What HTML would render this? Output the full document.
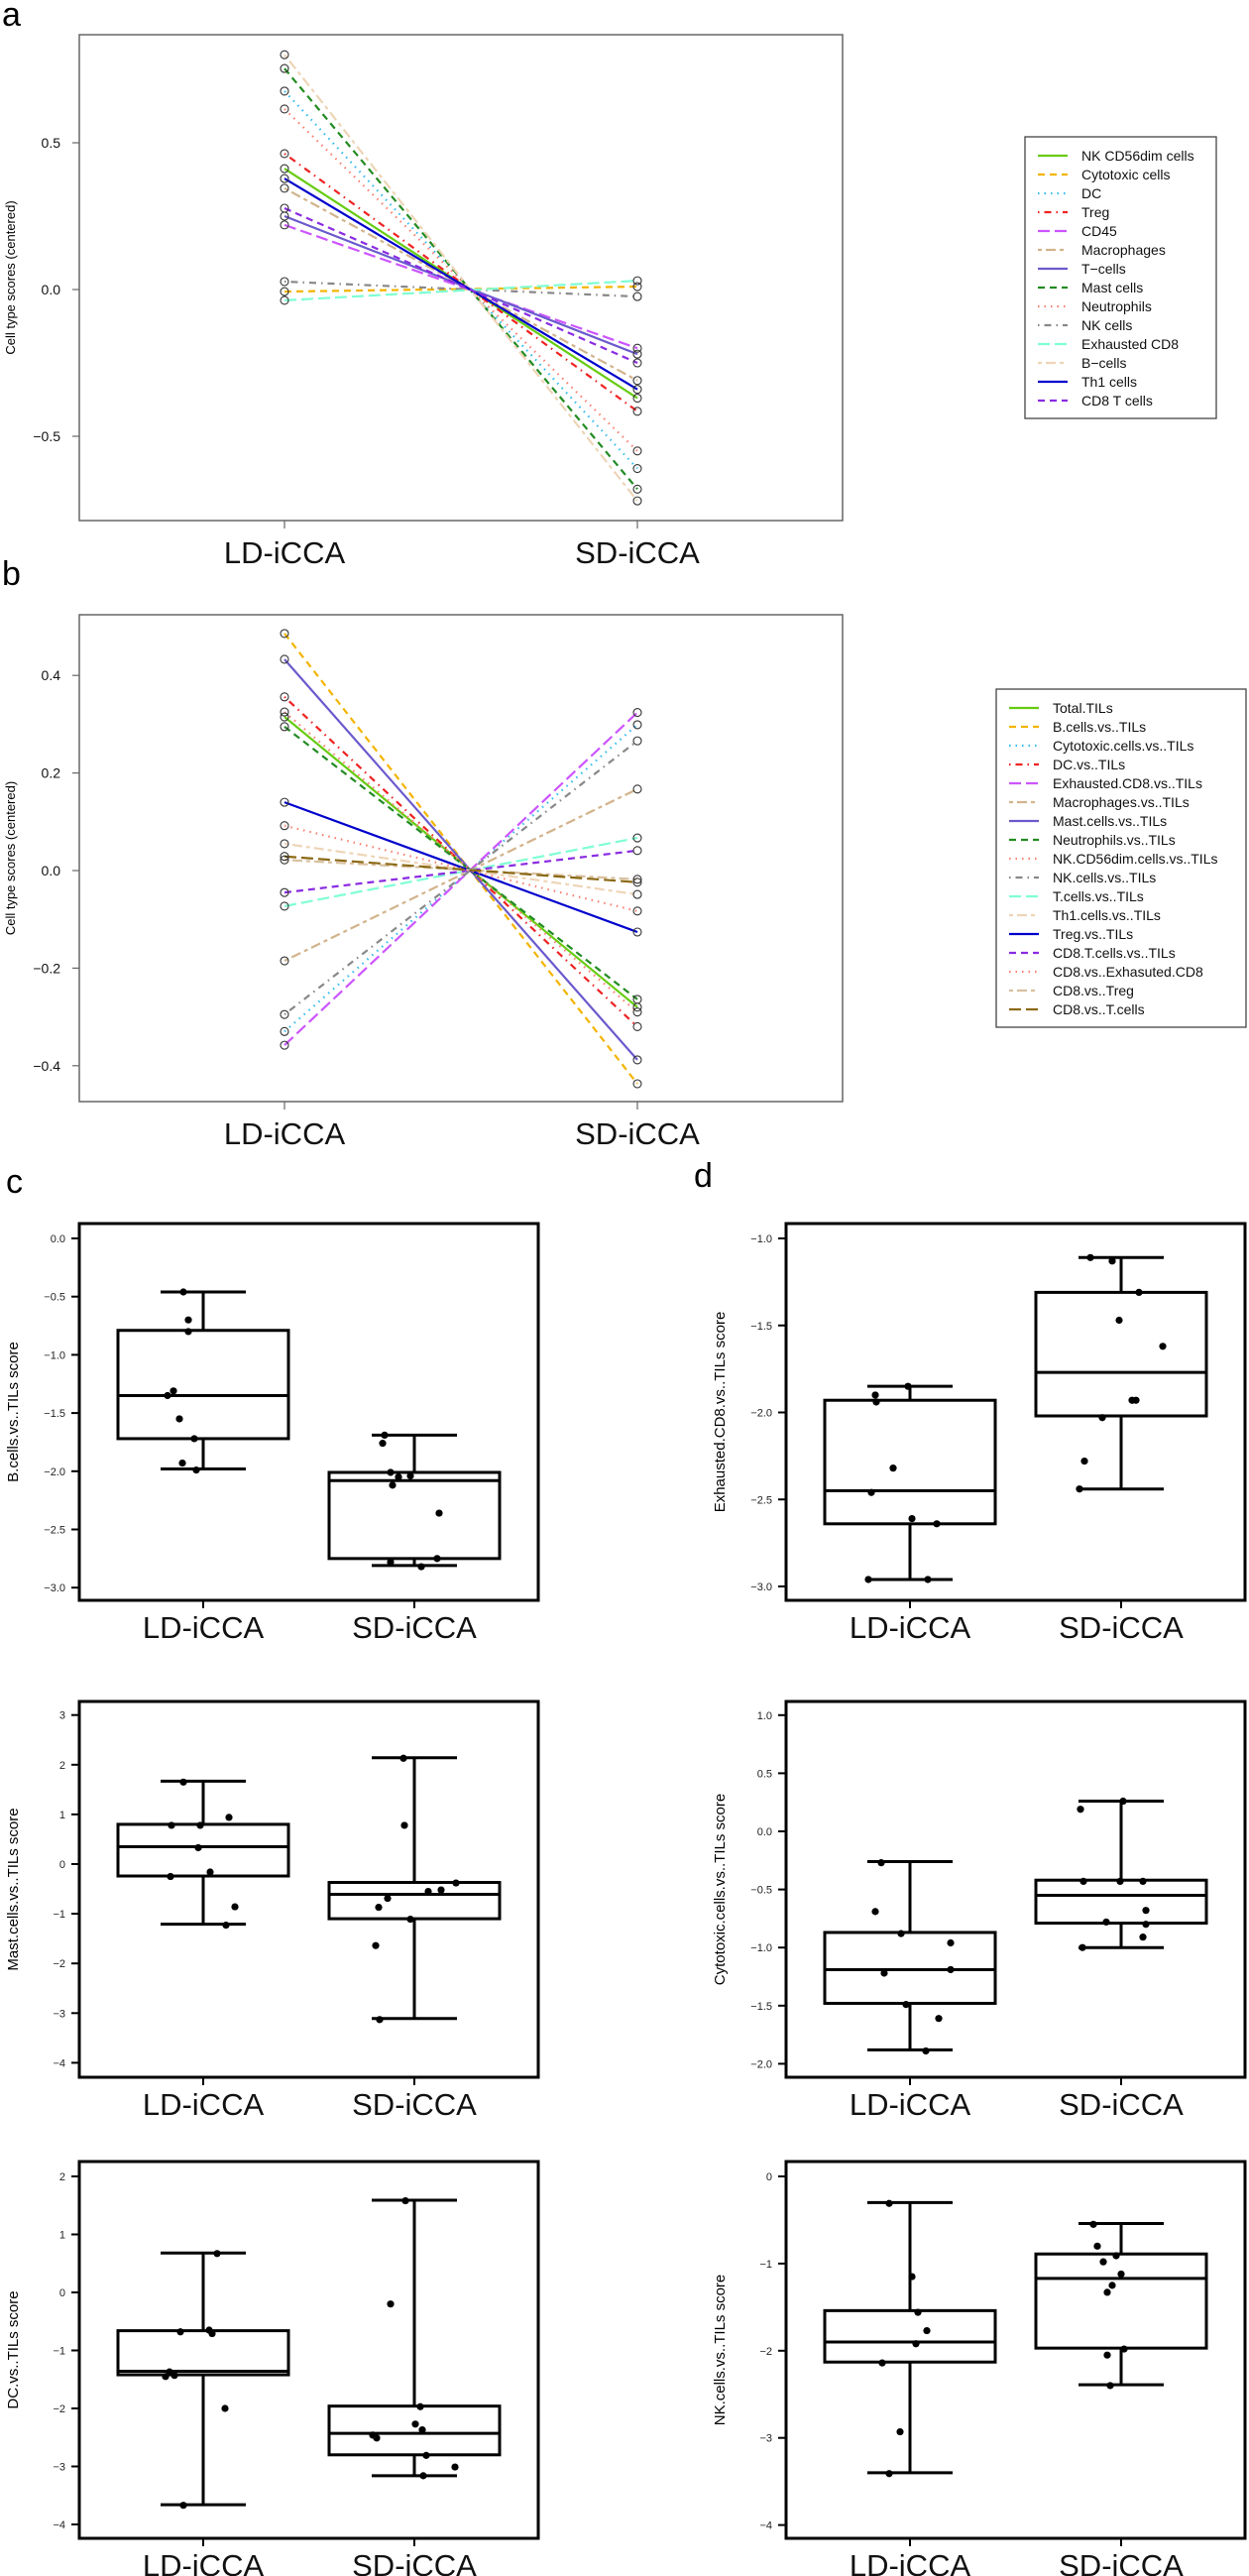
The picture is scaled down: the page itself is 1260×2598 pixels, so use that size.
<!DOCTYPE html>
<html><head><meta charset="utf-8"><style>
html,body{margin:0;padding:0;background:#fff}
svg{display:block;font-family:"Liberation Sans",Arial,sans-serif}
</style></head><body>
<svg id="fig" width="1260" height="2598" viewBox="0 0 1260 2598" xmlns="http://www.w3.org/2000/svg">
<text x="2" y="26" font-size="34">a</text>
<text x="2" y="590" font-size="34">b</text>
<text x="6" y="1203" font-size="34">c</text>
<text x="700" y="1197" font-size="34">d</text>
</svg>
<script>
// ---------- Panel a data ----------
const aNames = ["NK CD56dim cells","Cytotoxic cells","DC","Treg","CD45","Macrophages","T\u2212cells","Mast cells","Neutrophils","NK cells","Exhausted CD8","B\u2212cells","Th1 cells","CD8 T cells"];
const aLD = [0.412,-0.007,0.676,0.463,0.22,0.345,0.25,0.753,0.615,0.027,-0.037,0.80,0.378,0.277];
const aSD = [-0.37,0.01,-0.61,-0.415,-0.20,-0.31,-0.22,-0.68,-0.55,-0.024,0.03,-0.72,-0.34,-0.25];
const aColors = ["#66cc11","#f4b400","#33bbee","#ee2222","#cc55ff","#d2b48c","#6a5acd","#228b22","#fa8072","#888888","#7fffd4","#eed5b7","#0000cd","#8a2be2"];
const aLty = ["solid","dashed","dotted","dotdash","longdash","twodash","solid","dashed","dotted","dotdash","longdash","twodash","solid","dashed"];
const aTicks = [0.5,0.0,-0.5];
const aTickLabels = ["0.5","0.0","\u22120.5"];
// ---------- Panel b data ----------
const bNames = ["Total.TILs","B.cells.vs..TILs","Cytotoxic.cells.vs..TILs","DC.vs..TILs","Exhausted.CD8.vs..TILs","Macrophages.vs..TILs","Mast.cells.vs..TILs","Neutrophils.vs..TILs","NK.CD56dim.cells.vs..TILs","NK.cells.vs..TILs","T.cells.vs..TILs","Th1.cells.vs..TILs","Treg.vs..TILs","CD8.T.cells.vs..TILs","CD8.vs..Exhasuted.CD8","CD8.vs..Treg","CD8.vs..T.cells"];
const bLD = [0.315,0.486,-0.33,0.356,-0.358,-0.185,0.433,0.295,0.325,-0.295,-0.073,0.055,0.14,-0.045,0.092,0.022,0.029];
const bSD = [-0.28,-0.437,0.299,-0.32,0.324,0.167,-0.388,-0.264,-0.29,0.266,0.067,-0.049,-0.126,0.041,-0.083,-0.018,-0.024];
const bColors = ["#66cc11","#f4b400","#33bbee","#ee2222","#cc55ff","#d2b48c","#6a5acd","#228b22","#fa8072","#888888","#7fffd4","#eed5b7","#0000cd","#8a2be2","#fa8072","#d8c0a0","#8b6914"];
const bLty = ["solid","dashed","dotted","dotdash","longdash","twodash","solid","dashed","dotted","dotdash","longdash","twodash","solid","dashed","dotted","twodash","longdash"];
const bTicks = [0.4,0.2,0.0,-0.2,-0.4];
const bTickLabels = ["0.4","0.2","0.0","\u22120.2","\u22120.4"];
const groups = ["LD-iCCA","SD-iCCA"];
// ---------- Boxplot data: [whiskerLow, Q1, median, Q3, whiskerHigh] ----------
const c1Stats = [[-1.98,-1.72,-1.35,-0.79,-0.46],[-2.81,-2.75,-2.08,-2.01,-1.69]];
const c1LD = [-0.46,-0.70,-0.80,-1.31,-1.35,-1.55,-1.72,-1.93,-1.99];
const c1SD = [-1.69,-1.76,-2.01,-2.05,-2.04,-2.12,-2.36,-2.78,-2.75,-2.82];
const c1JitLD = [-20,-15,-15,-30,-36,-24,-9,-21,-7];
const c1JitSD = [-30,-32,-24,-16,-4,-22,25,-24,23,7];
const c2Stats = [[-1.21,-0.24,0.35,0.80,1.67],[-3.11,-1.10,-0.61,-0.37,2.14]];
const c2LD = [1.65,0.94,0.78,0.78,0.33,-0.16,-0.25,-0.86,-1.23];
const c2SD = [2.13,0.78,-0.38,-0.52,-0.55,-0.69,-0.87,-1.11,-1.64,-3.13];
const c2JitLD = [-20,26,-32,-3,-5,7,-33,32,23];
const c2JitSD = [-11,-10,42,27,14,-27,-36,-4,-39,-35];
const c3Stats = [[-3.66,-1.42,-1.36,-0.66,0.68],[-3.16,-2.80,-2.43,-1.96,1.59]];
const c3LD = [0.67,-0.68,-0.65,-0.71,-1.37,-1.45,-1.43,-2.00,-3.67];
const c3SD = [1.58,-0.20,-1.97,-2.27,-2.37,-2.46,-2.51,-2.81,-3.01,-3.16];
const c3JitLD = [14,-23,6,9,-34,-38,-29,22,-20];
const c3JitSD = [-9,-24,6,1,8,-42,-38,12,41,9];
const d1Stats = [[-2.96,-2.64,-2.45,-1.93,-1.85],[-2.44,-2.02,-1.77,-1.31,-1.11]];
const d1LD = [-1.90,-1.94,-1.85,-2.32,-2.46,-2.61,-2.64,-2.96,-2.96];
const d1SD = [-1.11,-1.13,-1.31,-1.47,-1.62,-1.93,-1.93,-2.03,-2.28,-2.44];
const d1JitLD = [-35,-34,-2,-17,-39,2,27,-42,18];
const d1JitSD = [-31,-9,18,-2,42,11,15,-19,-37,-42];
const d2Stats = [[-1.88,-1.48,-1.19,-0.87,-0.26],[-1.00,-0.79,-0.55,-0.42,0.26]];
const d2LD = [-0.27,-0.69,-0.88,-0.96,-1.22,-1.19,-1.49,-1.61,-1.89];
const d2SD = [0.26,0.19,-0.43,-0.43,-0.43,-0.68,-0.78,-0.80,-0.91,-1.00];
const d2JitLD = [-29,-35,-9,41,-26,41,-4,29,16];
const d2JitSD = [2,-41,-38,-1,22,25,-15,25,22,-39];
const d3Stats = [[-3.40,-2.13,-1.90,-1.54,-0.30],[-2.39,-1.97,-1.17,-0.89,-0.54]];
const d3LD = [-0.31,-1.15,-1.56,-1.77,-1.92,-2.14,-2.93,-3.41];
const d3SD = [-0.55,-0.80,-0.98,-0.91,-1.12,-1.25,-1.33,-1.98,-2.05,-2.40];
const d3JitLD = [-21,2,8,17,6,-28,-10,-21];
const d3JitSD = [-28,-24,-18,-5,0,-9,-14,3,-14,-11];
const c1Ticks=[0,-0.5,-1,-1.5,-2,-2.5,-3], c1TickLabels=["0.0","\u22120.5","\u22121.0","\u22121.5","\u22122.0","\u22122.5","\u22123.0"];
const c2Ticks=[3,2,1,0,-1,-2,-3,-4], c2TickLabels=["3","2","1","0","\u22121","\u22122","\u22123","\u22124"];
const c3Ticks=[2,1,0,-1,-2,-3,-4], c3TickLabels=["2","1","0","\u22121","\u22122","\u22123","\u22124"];
const d1Ticks=[-1,-1.5,-2,-2.5,-3], d1TickLabels=["\u22121.0","\u22121.5","\u22122.0","\u22122.5","\u22123.0"];
const d2Ticks=[1,0.5,0,-0.5,-1,-1.5,-2], d2TickLabels=["1.0","0.5","0.0","\u22120.5","\u22121.0","\u22121.5","\u22122.0"];
const d3Ticks=[0,-1,-2,-3,-4], d3TickLabels=["0","\u22121","\u22122","\u22123","\u22124"];

const NS="http://www.w3.org/2000/svg";
const svg=document.getElementById('fig');
function mk(tag,attrs,parent){const e=document.createElementNS(NS,tag);for(const k in attrs)e.setAttribute(k,attrs[k]);(parent||svg).appendChild(e);return e;}
const dashMap={solid:"",dashed:"7 5",dotted:"1.5 5",dotdash:"1.5 5 7 5",longdash:"12 5",twodash:"4 4 10 4"};

function linePanel(cfg){
  const g=mk('g',{});
  
  
  const y=v=>cfg.y0-v*cfg.scale;
  const xs=[cfg.xLD,cfg.xSD];
  const fr=mk('rect',{x:80,y:cfg.top,width:770,height:cfg.bottom-cfg.top,fill:'none',stroke:'#666','stroke-width':1.5},g);
  
  
  cfg.ticks.forEach((t,i)=>{
    const tk=mk('line',{x1:73,x2:80,y1:y(t),y2:y(t),stroke:'#666','stroke-width':1.2},g);
    
    
    const tl=mk('text',{x:61,y:y(t)+5,'font-size':14,'text-anchor':'end',fill:'#111'},g);
    tl.textContent=cfg.tickLabels[i];
    
    
  });
  const yt=mk('text',{x:0,y:0,'font-size':13,'text-anchor':'middle',transform:`translate(15,${(cfg.top+cfg.bottom)/2}) rotate(-90)`},g);
  yt.textContent="Cell type scores (centered)";
  
  
  groups.forEach((gname,i)=>{
    const tk=mk('line',{x1:xs[i],x2:xs[i],y1:cfg.bottom,y2:cfg.bottom+8,stroke:'#666','stroke-width':1.2},g);
    
    
    const tl=mk('text',{x:xs[i],y:cfg.bottom+43,'font-size':31,'text-anchor':'middle',fill:'#111'},g);
    tl.textContent=gname;
    
    
  });
  cfg.ld.forEach((v,i)=>{
    const l=mk('line',{x1:xs[0],y1:y(v),x2:xs[1],y2:y(cfg.sd[i]),stroke:cfg.colors[i],'stroke-width':2.2,'stroke-dasharray':dashMap[cfg.lty[i]]},g);
    
    
  });
  cfg.ld.forEach((v,i)=>{
    [v,cfg.sd[i]].forEach((vv,j)=>{
      const c=mk('circle',{cx:xs[j],cy:y(vv),r:4,fill:'none',stroke:'#333','stroke-width':1.1},g);
      
      
    });
  });
  const lg=mk('g',{},g);
  
  
  const L=cfg.legend;
  mk('rect',{x:L.x,y:L.y,width:L.w,height:L.h,fill:'#fff',stroke:'#444','stroke-width':1.3},lg);
  cfg.names.forEach((n,i)=>{
    const ry=L.y0+i*19;
    const e=mk('g',{},lg);
    
    
    mk('line',{x1:L.lx,x2:L.lx+30,y1:ry,y2:ry,stroke:cfg.colors[i],'stroke-width':2.2,'stroke-dasharray':dashMap[cfg.lty[i]]},e);
    const t=mk('text',{x:L.tx,y:ry+5,'font-size':14,fill:'#111'},e);
    t.textContent=n;
  });
}
linePanel({name:'panel-a-chart',top:35,bottom:525,y0:292,scale:296,xLD:287,xSD:643,ticks:aTicks,tickLabels:aTickLabels,ld:aLD,sd:aSD,colors:aColors,lty:aLty,names:aNames,
  legend:{x:1034,y:138,w:193,h:284,y0:157,lx:1047,tx:1091}});
linePanel({name:'panel-b-chart',top:620,bottom:1111,y0:878,scale:492,xLD:287,xSD:643,ticks:bTicks,tickLabels:bTickLabels,ld:bLD,sd:bSD,colors:bColors,lty:bLty,names:bNames,
  legend:{x:1005,y:695,w:252,h:341,y0:714,lx:1018,tx:1062}});

function boxPanel(cfg){
  const g=mk('g',{});
  
  
  const y=v=>cfg.y0-v*cfg.scale;
  const L=cfg.left;
  const xs=[cfg.left+125,cfg.left+338];
  const fr=mk('rect',{x:L,y:cfg.top,width:463,height:cfg.bottom-cfg.top,fill:'none',stroke:'#000','stroke-width':3},g);
  
  
  cfg.ticks.forEach((t,i)=>{
    const tk=mk('line',{x1:L-8,x2:L,y1:y(t),y2:y(t),stroke:'#000','stroke-width':2},g);
    
    
    const tl=mk('text',{x:L-14,y:y(t)+4,'font-size':11,'text-anchor':'end',fill:'#222'},g);
    tl.textContent=cfg.tickLabels[i];
    
    
  });
  const yt=mk('text',{x:0,y:0,'font-size':15,'text-anchor':'middle',transform:`translate(${L-62},${(cfg.top+cfg.bottom)/2}) rotate(-90)`},g);
  yt.textContent=cfg.ytitle;
  
  
  groups.forEach((gname,i)=>{
    const tk=mk('line',{x1:xs[i],x2:xs[i],y1:cfg.bottom,y2:cfg.bottom+8,stroke:'#000','stroke-width':2},g);
    
    
    const tl=mk('text',{x:xs[i],y:cfg.bottom+38,'font-size':31,'text-anchor':'middle',fill:'#111'},g);
    tl.textContent=gname;
    
    
  });
  cfg.stats.forEach((s,i)=>{
    const b=mk('g',{},g);
    
    
    const cx=xs[i],st={stroke:'#000','stroke-width':3,fill:'none'};
    mk('line',Object.assign({x1:cx,x2:cx,y1:y(s[0]),y2:y(s[1])},st),b);
    mk('line',Object.assign({x1:cx,x2:cx,y1:y(s[3]),y2:y(s[4])},st),b);
    mk('line',Object.assign({x1:cx-43,x2:cx+43,y1:y(s[0]),y2:y(s[0])},st),b);
    mk('line',Object.assign({x1:cx-43,x2:cx+43,y1:y(s[4]),y2:y(s[4])},st),b);
    mk('rect',Object.assign({x:cx-86,y:y(s[3]),width:172,height:y(s[1])-y(s[3])},st),b);
    mk('line',Object.assign({x1:cx-86,x2:cx+86,y1:y(s[2]),y2:y(s[2])},st),b);
  });
  [cfg.ld,cfg.sd].forEach((arr,gi)=>{
    const jit=gi?cfg.jsd:cfg.jld;
    arr.forEach((v,i)=>{
      const c=mk('circle',{cx:xs[gi]+jit[i],cy:y(v),r:3.6,fill:'#000'},g);
      
      
    });
  });
}
boxPanel({name:'panel-c1-bcells',left:80,top:1234,bottom:1614,y0:1249,scale:117.4,ticks:c1Ticks,tickLabels:c1TickLabels,ytitle:"B.cells.vs..TILs score",stats:c1Stats,ld:c1LD,sd:c1SD,jld:c1JitLD,jsd:c1JitSD});
boxPanel({name:'panel-c2-mastcells',left:80,top:1716,bottom:2095,y0:1880,scale:50.1,ticks:c2Ticks,tickLabels:c2TickLabels,ytitle:"Mast.cells.vs..TILs score",stats:c2Stats,ld:c2LD,sd:c2SD,jld:c2JitLD,jsd:c2JitSD});
boxPanel({name:'panel-c3-dc',left:80,top:2180,bottom:2560,y0:2312,scale:58.5,ticks:c3Ticks,tickLabels:c3TickLabels,ytitle:"DC.vs..TILs score",stats:c3Stats,ld:c3LD,sd:c3SD,jld:c3JitLD,jsd:c3JitSD});
boxPanel({name:'panel-d1-exhausted-cd8',left:793,top:1234,bottom:1614,y0:1073.5,scale:175.5,ticks:d1Ticks,tickLabels:d1TickLabels,ytitle:"Exhausted.CD8.vs..TILs score",stats:d1Stats,ld:d1LD,sd:d1SD,jld:d1JitLD,jsd:d1JitSD});
boxPanel({name:'panel-d2-cytotoxic',left:793,top:1716,bottom:2095,y0:1847,scale:117.2,ticks:d2Ticks,tickLabels:d2TickLabels,ytitle:"Cytotoxic.cells.vs..TILs score",stats:d2Stats,ld:d2LD,sd:d2SD,jld:d2JitLD,jsd:d2JitSD});
boxPanel({name:'panel-d3-nkcells',left:793,top:2180,bottom:2560,y0:2195,scale:87.9,ticks:d3Ticks,tickLabels:d3TickLabels,ytitle:"NK.cells.vs..TILs score",stats:d3Stats,ld:d3LD,sd:d3SD,jld:d3JitLD,jsd:d3JitSD});
</script>
</body></html>
